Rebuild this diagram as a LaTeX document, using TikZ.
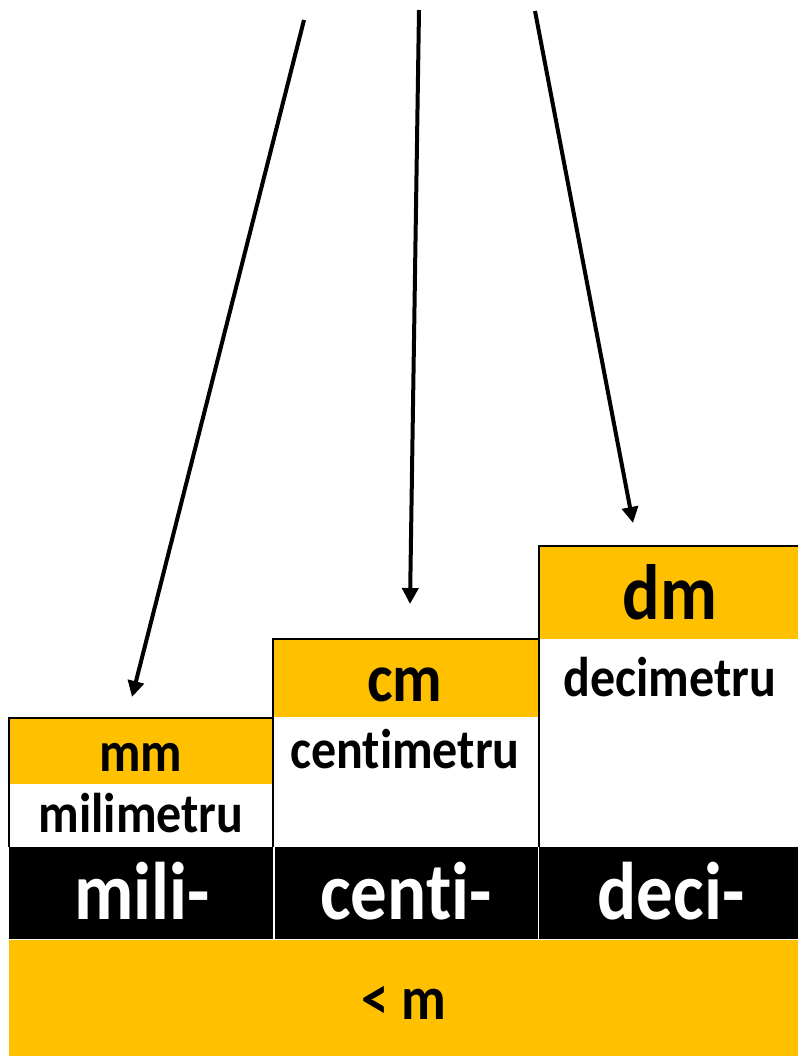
\documentclass[tikz,border=0pt]{standalone}
\usepackage{fontspec}
\setmainfont[Ligatures=NoCommon]{Carlito}
\usetikzlibrary{arrows.meta}
\definecolor{gold}{HTML}{FFC000}
\newcommand{\vst}[1]{\scalebox{1}[1.12]{#1}}
\begin{document}
\begin{tikzpicture}[x=1pt,y=-1pt,
  lbl/.style={anchor=base, inner sep=0pt, font=\bfseries\fontsize{#1}{#1}\selectfont},
  lbl/.default=50,
  arr/.style={line width=4pt, -{Triangle[length=16pt,width=16pt]}},
  frame/.style={draw=black, line width=1.5pt}]
\useasboundingbox (0,0) rectangle (798,1056);
\fill[white] (0,0) rectangle (798,1056);
% bottom band
\fill[gold] (9,940) rectangle (798,1056);
% prefix row
\fill[black] (9,847) rectangle (798,939);
\draw[white, line width=1.5pt] (274,847) -- (274,939) (538.5,847) -- (538.5,939);
\draw[white, line width=1.2pt] (9,939.5) -- (798,939.5);
% mm box
\fill[gold] (9,718) rectangle (273,784);
\draw[frame] (9,847) -- (9,718) -- (273,718) -- (273,847);
% cm box
\fill[gold] (273,639) rectangle (539,717);
\draw[frame] (273,718) -- (273,639) -- (539,639) -- (539,847);
% dm box
\fill[gold] (539,546) rectangle (798,639);
\draw[frame] (539,639) -- (539,546) -- (798,546);
% texts
\node[lbl=51] (mm) at (141,771) {\vst{mm}};
\node[lbl] (mil) at (141,832) {\vst{milimetru}};
\node[lbl=61] (cm) at (405,701) {\vst{cm}};
\node[lbl] (cen) at (405,768) {\vst{centimetru}};
\node[lbl=70] (dm) at (670,619) {\vst{dm}};
\node[lbl] (dec) at (670,696) {\vst{decimetru}};
\node[lbl=73, text=white] (pmili) at (142,919) {\vst{mili-}};
\node[lbl=73, text=white] (pcenti) at (406,919) {\vst{centi-}};
\node[lbl=73, text=white] (pdeci) at (671,919) {\vst{deci-}};
\node[lbl=55] (lm) at (404,1019) {\vst{< m}};
% arrows
\coordinate (s1) at (304,20);
\coordinate (e1) at (132,697);
\coordinate (s2) at (419,10);
\coordinate (e2) at (410,604);
\coordinate (s3) at (535,11);
\coordinate (e3) at (633,523);
\draw[arr] (s1) -- (e1);
\draw[arr] (s2) -- (e2);
\draw[arr] (s3) -- (e3);
\end{tikzpicture}
\end{document}
